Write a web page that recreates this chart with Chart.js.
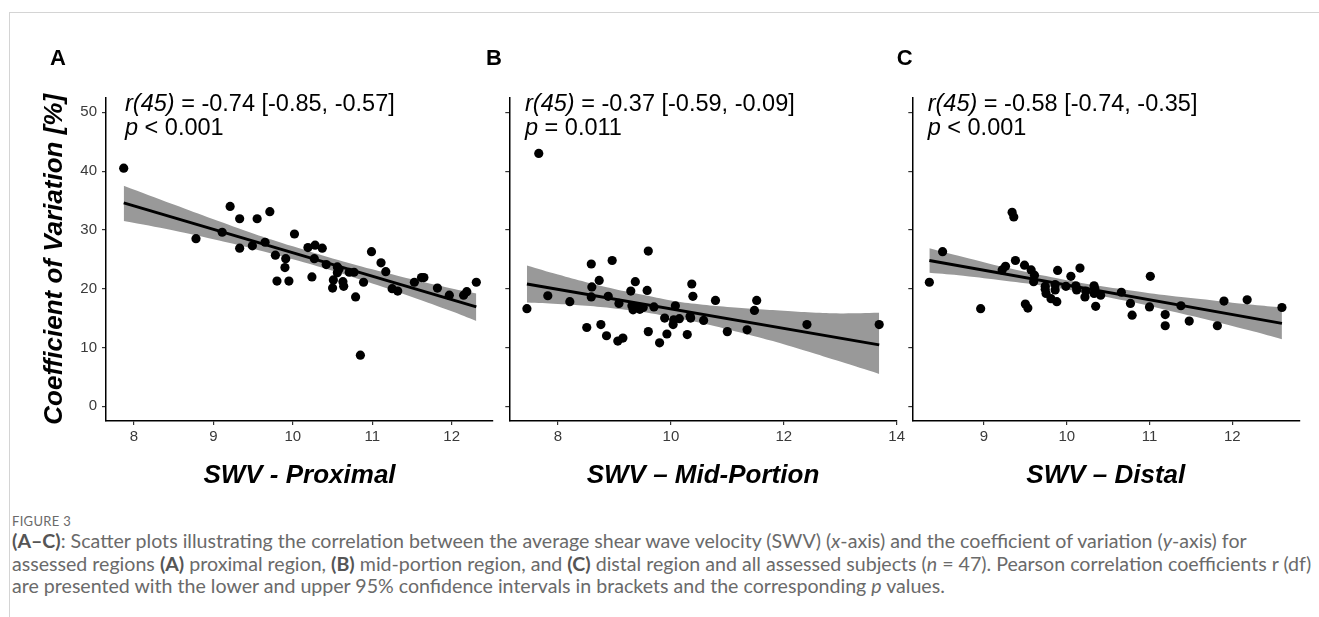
<!DOCTYPE html>
<html>
<head>
<meta charset="utf-8">
<script src="https://cdn.jsdelivr.net/npm/chart.js@4.4.1/dist/chart.umd.min.js"></script>
<style>
  body { margin: 0; background: #fff; }
  #page { position: relative; width: 1319px; height: 617px; overflow: hidden; background: #fff; }
  #frame { position: absolute; left: 9px; top: 12px; right: 0; bottom: 0; border-top: 1px solid #d4d4d4; border-left: 1px solid #d4d4d4; }
  .panel { position: absolute; top: 0; }
  #caption { position: absolute; left: 12px; top: 513px; font-family: Lato, "Open Sans", sans-serif; color: #6a6a6a; white-space: nowrap; }
  #caption .fig { font-size: 13px; letter-spacing: 0.3px; line-height: 16px; height: 17px; }
  #caption .txt { font-size: 19.6px; line-height: 22.5px; }
  #caption b { color: #555; }
</style>
</head>
<body>
<div id="page">
  <div id="frame"></div>
  <canvas id="chartA" class="panel" style="left:0px" width="500" height="500"></canvas>
  <canvas id="chartB" class="panel" style="left:480px" width="430" height="500"></canvas>
  <canvas id="chartC" class="panel" style="left:880px" width="439" height="500"></canvas>
  <div id="caption">
    <div class="fig">FIGURE 3</div>
    <div class="txt"><b>(A–C)</b>: Scatter plots illustrating the correlation between the average shear wave velocity (SWV) (<i>x</i>-axis) and the coefficient of variation (<i>y</i>-axis) for<br>assessed regions <b>(A)</b> proximal region, <b>(B)</b> mid-portion region, and <b>(C)</b> distal region and all assessed subjects (<i>n</i> = 47). Pearson correlation coefficients r (df)<br>are presented with the lower and upper 95% confidence intervals in brackets and the corresponding <i>p</i> values.</div>
  </div>
</div>
<script>
// values
const yTicks = [0, 10, 20, 30, 40, 50];

// A - proximal
const swvProximal = [7.87, 8.78, 9.11, 9.21, 9.33, 9.33, 9.49, 9.55, 9.65, 9.71, 9.78, 9.80, 9.91, 9.90, 9.95, 10.02,
  10.19, 10.28, 10.37, 10.27, 10.24, 10.42, 10.56, 10.56, 10.58, 10.51, 10.50, 10.63, 10.64, 10.71, 10.77, 10.79,
  10.89, 10.85, 10.99, 11.11, 11.17, 11.25, 11.32, 11.53, 11.62, 11.65, 11.82, 11.97, 12.15, 12.19, 12.31];
const cvProximal = [40.5, 28.5, 29.6, 34.0, 31.9, 26.9, 27.3, 31.9, 27.9, 33.1, 25.7, 21.3, 25.1, 23.6, 21.3, 29.3,
  27.0, 27.4, 26.9, 25.1, 22.0, 24.1, 23.7, 22.7, 23.3, 21.5, 20.1, 21.2, 20.4, 22.8, 22.8, 18.6,
  21.1, 8.7, 26.3, 24.4, 22.9, 20.0, 19.6, 21.1, 21.9, 21.9, 20.1, 18.9, 18.9, 19.5, 21.1];
const fitXProximal = [7.87, 12.31];
const fitYProximal = [34.6, 16.9];
const bandXProximal = [7.87, 8.5, 9.0, 9.5, 10.0, 10.5, 11.0, 11.5, 12.0, 12.31];
const bandHiProximal = [37.5, 34.3, 31.8, 29.4, 27.2, 25.15, 23.3, 21.6, 20.05, 19.2];
const bandLoProximal = [31.5, 29.9, 28.4, 26.8, 25.0, 23.05, 20.9, 18.6, 16.15, 14.5];
const xTicksProximal = [8, 9, 10, 11, 12];

// B - mid-portion
const swvMid = [7.66, 7.45, 7.82, 8.21, 8.59, 8.60, 8.59, 8.51, 8.73, 8.76, 8.89, 8.86, 8.96, 9.08, 9.06, 9.15,
  9.29, 9.37, 9.31, 9.33, 9.40, 9.51, 9.58, 9.60, 9.60, 9.70, 9.80, 9.89, 9.93, 10.08, 10.05, 10.04,
  10.15, 10.29, 10.34, 10.35, 10.37, 10.39, 10.58, 10.79, 11.00, 11.35, 11.48, 11.52, 12.41, 13.69, 9.45];
const cvMid = [43.0, 16.6, 18.8, 17.8, 24.2, 20.3, 18.6, 13.4, 21.4, 13.9, 18.7, 12.0, 24.8, 17.5, 11.1, 11.6,
  19.6, 21.2, 17.1, 16.4, 16.8, 16.8, 19.7, 26.4, 12.7, 16.9, 10.8, 15.0, 12.3, 17.1, 14.7, 13.9,
  14.9, 12.2, 15.3, 15.0, 20.8, 18.7, 14.6, 18.0, 12.7, 13.0, 16.3, 18.0, 13.9, 13.9, 16.5];
const fitXMid = [7.45, 13.69];
const fitYMid = [20.8, 10.45];
const bandXMid = [7.45, 8.0, 8.5, 9.0, 9.5, 10.0, 10.5, 11.0, 11.5, 12.0, 12.5, 13.0, 13.69];
const bandHiMid = [23.95, 22.4, 21.1, 19.95, 18.95, 18.0, 17.35, 16.9, 16.55, 16.25, 15.95, 15.8, 15.9];
const bandLoMid = [17.65, 17.4, 17.1, 16.65, 16.05, 15.2, 14.25, 13.1, 11.85, 10.55, 9.1, 7.6, 5.5];
const xTicksMid = [8, 10, 12, 14];

// C - distal
const swvDistal = [8.34, 8.50, 8.96, 9.22, 9.26, 9.34, 9.36, 9.38, 9.49, 9.50, 9.53, 9.57, 9.61, 9.60, 9.74, 9.75,
  9.81, 9.88, 9.86, 9.86, 9.89, 9.99, 10.05, 10.11, 10.12, 10.16, 10.22, 10.23, 10.33, 10.34, 10.33, 10.41,
  10.35, 10.66, 10.77, 10.79, 11.00, 11.01, 11.19, 11.19, 11.38, 11.48, 11.82, 11.90, 12.18, 12.60, 9.74];
const cvDistal = [21.1, 26.3, 16.6, 23.2, 23.8, 33.0, 32.2, 24.8, 24.0, 17.4, 16.7, 23.2, 22.3, 21.2, 20.4, 19.2,
  18.3, 17.8, 19.8, 20.7, 23.1, 20.4, 22.1, 20.5, 19.8, 23.5, 18.6, 19.6, 20.5, 20.0, 19.2, 18.9,
  17.0, 19.4, 17.5, 15.5, 16.9, 22.1, 15.6, 13.7, 17.1, 14.5, 13.7, 17.9, 18.1, 16.8, 19.9];
const fitXDistal = [8.34, 12.60];
const fitYDistal = [24.8, 14.1];
const bandXDistal = [8.34, 8.75, 9.25, 9.75, 10.25, 10.75, 11.25, 11.75, 12.25, 12.60];
const bandHiDistal = [26.9, 25.4, 23.65, 22.15, 20.8, 19.75, 18.8, 18.05, 17.25, 16.8];
const bandLoDistal = [22.7, 22.2, 21.35, 20.45, 19.2, 17.85, 16.2, 14.55, 12.75, 11.4];
const xTicksDistal = [9, 10, 11, 12];

const FONT = "'Liberation Sans', Arial, Helvetica, sans-serif";
const bandGrey = "#999999";

const toXY = (xs, ys) => xs.map((x, i) => ({ x, y: ys[i] }));

// letters and r / p annotations, drawn as text on the canvas
const panelText = {
  id: "panelText",
  afterDraw(chart, args, opts) {
    const ctx = chart.ctx;
    ctx.save();
    ctx.fillStyle = "#000";
    ctx.textBaseline = "alphabetic";
    ctx.font = "bold 22px " + FONT;
    ctx.fillText(opts.letter, opts.letterX, 65);
    const lines = [[opts.rLabel, opts.rText], ["p", opts.pText]];
    lines.forEach((parts, i) => {
      let x = opts.textX;
      const y = 111 + i * 24;
      ctx.font = "italic 23.5px " + FONT;
      ctx.fillText(parts[0], x, y);
      x += ctx.measureText(parts[0]).width;
      ctx.font = "23.5px " + FONT;
      ctx.fillText(parts[1], x, y);
    });
    ctx.restore();
  },
};

function makePanel(id, cfg) {
  const axisColor = "#000";
  new Chart(document.getElementById(id).getContext("2d"), {
    type: "scatter",
    data: {
      datasets: [
        {
          data: toXY(cfg.xs, cfg.ys),
          backgroundColor: "#000",
          borderWidth: 0,
          pointRadius: 4.6,
          pointHoverRadius: 4.6,
          order: 0,
        },
        {
          type: "line",
          data: toXY(cfg.fitX, cfg.fitY),
          borderColor: "#000",
          borderWidth: 3,
          pointRadius: 0,
          fill: false,
          order: 1,
        },
        {
          type: "line",
          data: toXY(cfg.bandX, cfg.bandHi),
          borderWidth: 0,
          borderColor: "rgba(0,0,0,0)",
          backgroundColor: bandGrey,
          pointRadius: 0,
          tension: 0.4,
          fill: "+1",
          order: 2,
        },
        {
          type: "line",
          data: toXY(cfg.bandX, cfg.bandLo),
          borderWidth: 0,
          borderColor: "rgba(0,0,0,0)",
          pointRadius: 0,
          tension: 0.4,
          fill: false,
          order: 3,
        },
      ],
    },
    options: {
      responsive: false,
      animation: false,
      events: [],
      layout: { padding: { top: 97.6, right: cfg.padRight, left: 0, bottom: 0 } },
      plugins: {
        legend: { display: false },
        tooltip: { enabled: false },
        panelText: cfg.text,
      },
      scales: {
        x: {
          type: "linear",
          min: cfg.xMin,
          max: cfg.xMax,
          afterBuildTicks: (s) => { s.ticks = cfg.xTicks.map((v) => ({ value: v })); },
          afterFit: (s) => { s.height = 79; },
          border: { display: true, color: axisColor, width: 1.5 },
          grid: { drawOnChartArea: false, drawTicks: true, tickLength: 4, color: "#333", lineWidth: 1.2 },
          ticks: { color: "#3a3a3a", padding: 3, font: { family: FONT, size: 15 }, maxRotation: 0 },
          title: {
            display: true,
            text: cfg.xTitle,
            color: "#000",
            padding: { top: 0, bottom: 8.4 },
            font: { family: FONT, size: 26, weight: "bold", style: "italic" },
          },
        },
        y: {
          type: "linear",
          min: -2.5,
          max: 52.5,
          afterBuildTicks: (s) => { s.ticks = yTicks.map((v) => ({ value: v })); },
          afterFit: (s) => { s.width = cfg.yWidth; },
          border: { display: true, color: axisColor, width: 1.5 },
          grid: { drawOnChartArea: false, drawTicks: true, tickLength: 4, color: "#333", lineWidth: 1.2 },
          ticks: { display: cfg.yLabels, color: "#3a3a3a", padding: 5, font: { family: FONT, size: 15 } },
          title: {
            display: cfg.yLabels,
            text: "Coefficient of Variation [%]",
            color: "#000",
            padding: { top: 39.4, bottom: 0 },
            font: { family: FONT, size: 26, weight: "bold", style: "italic" },
          },
        },
      },
    },
    plugins: [panelText],
  });
}

makePanel("chartA", {
  xs: swvProximal, ys: cvProximal, fitX: fitXProximal, fitY: fitYProximal,
  bandX: bandXProximal, bandHi: bandHiProximal, bandLo: bandLoProximal,
  xTicks: xTicksProximal, xMin: 7.647, xMax: 12.52, xTitle: "SWV - Proximal",
  yWidth: 106, yLabels: true, padRight: 7,
  text: { letter: "A", letterX: 50, textX: 125, rLabel: "r(45)", rText: " = -0.74 [-0.85, -0.57]", pText: " < 0.001" },
});

makePanel("chartB", {
  xs: swvMid, ys: cvMid, fitX: fitXMid, fitY: fitYMid,
  bandX: bandXMid, bandHi: bandHiMid, bandLo: bandLoMid,
  xTicks: xTicksMid, xMin: 7.138, xMax: 14.0, xTitle: "SWV – Mid-Portion",
  yWidth: 29.3, yLabels: false, padRight: 13.3,
  text: { letter: "B", letterX: 6, textX: 45, rLabel: "r(45)", rText: " = -0.37 [-0.59, -0.09]", pText: " = 0.011" },
});

makePanel("chartC", {
  xs: swvDistal, ys: cvDistal, fitX: fitXDistal, fitY: fitYDistal,
  bandX: bandXDistal, bandHi: bandHiDistal, bandLo: bandLoDistal,
  xTicks: xTicksDistal, xMin: 8.134, xMax: 12.81, xTitle: "SWV – Distal",
  yWidth: 32.3, yLabels: false, padRight: 19.7,
  text: { letter: "C", letterX: 16.7, textX: 47.7, rLabel: "r(45)", rText: " = -0.58 [-0.74, -0.35]", pText: " < 0.001" },
});
</script>
</body>
</html>
